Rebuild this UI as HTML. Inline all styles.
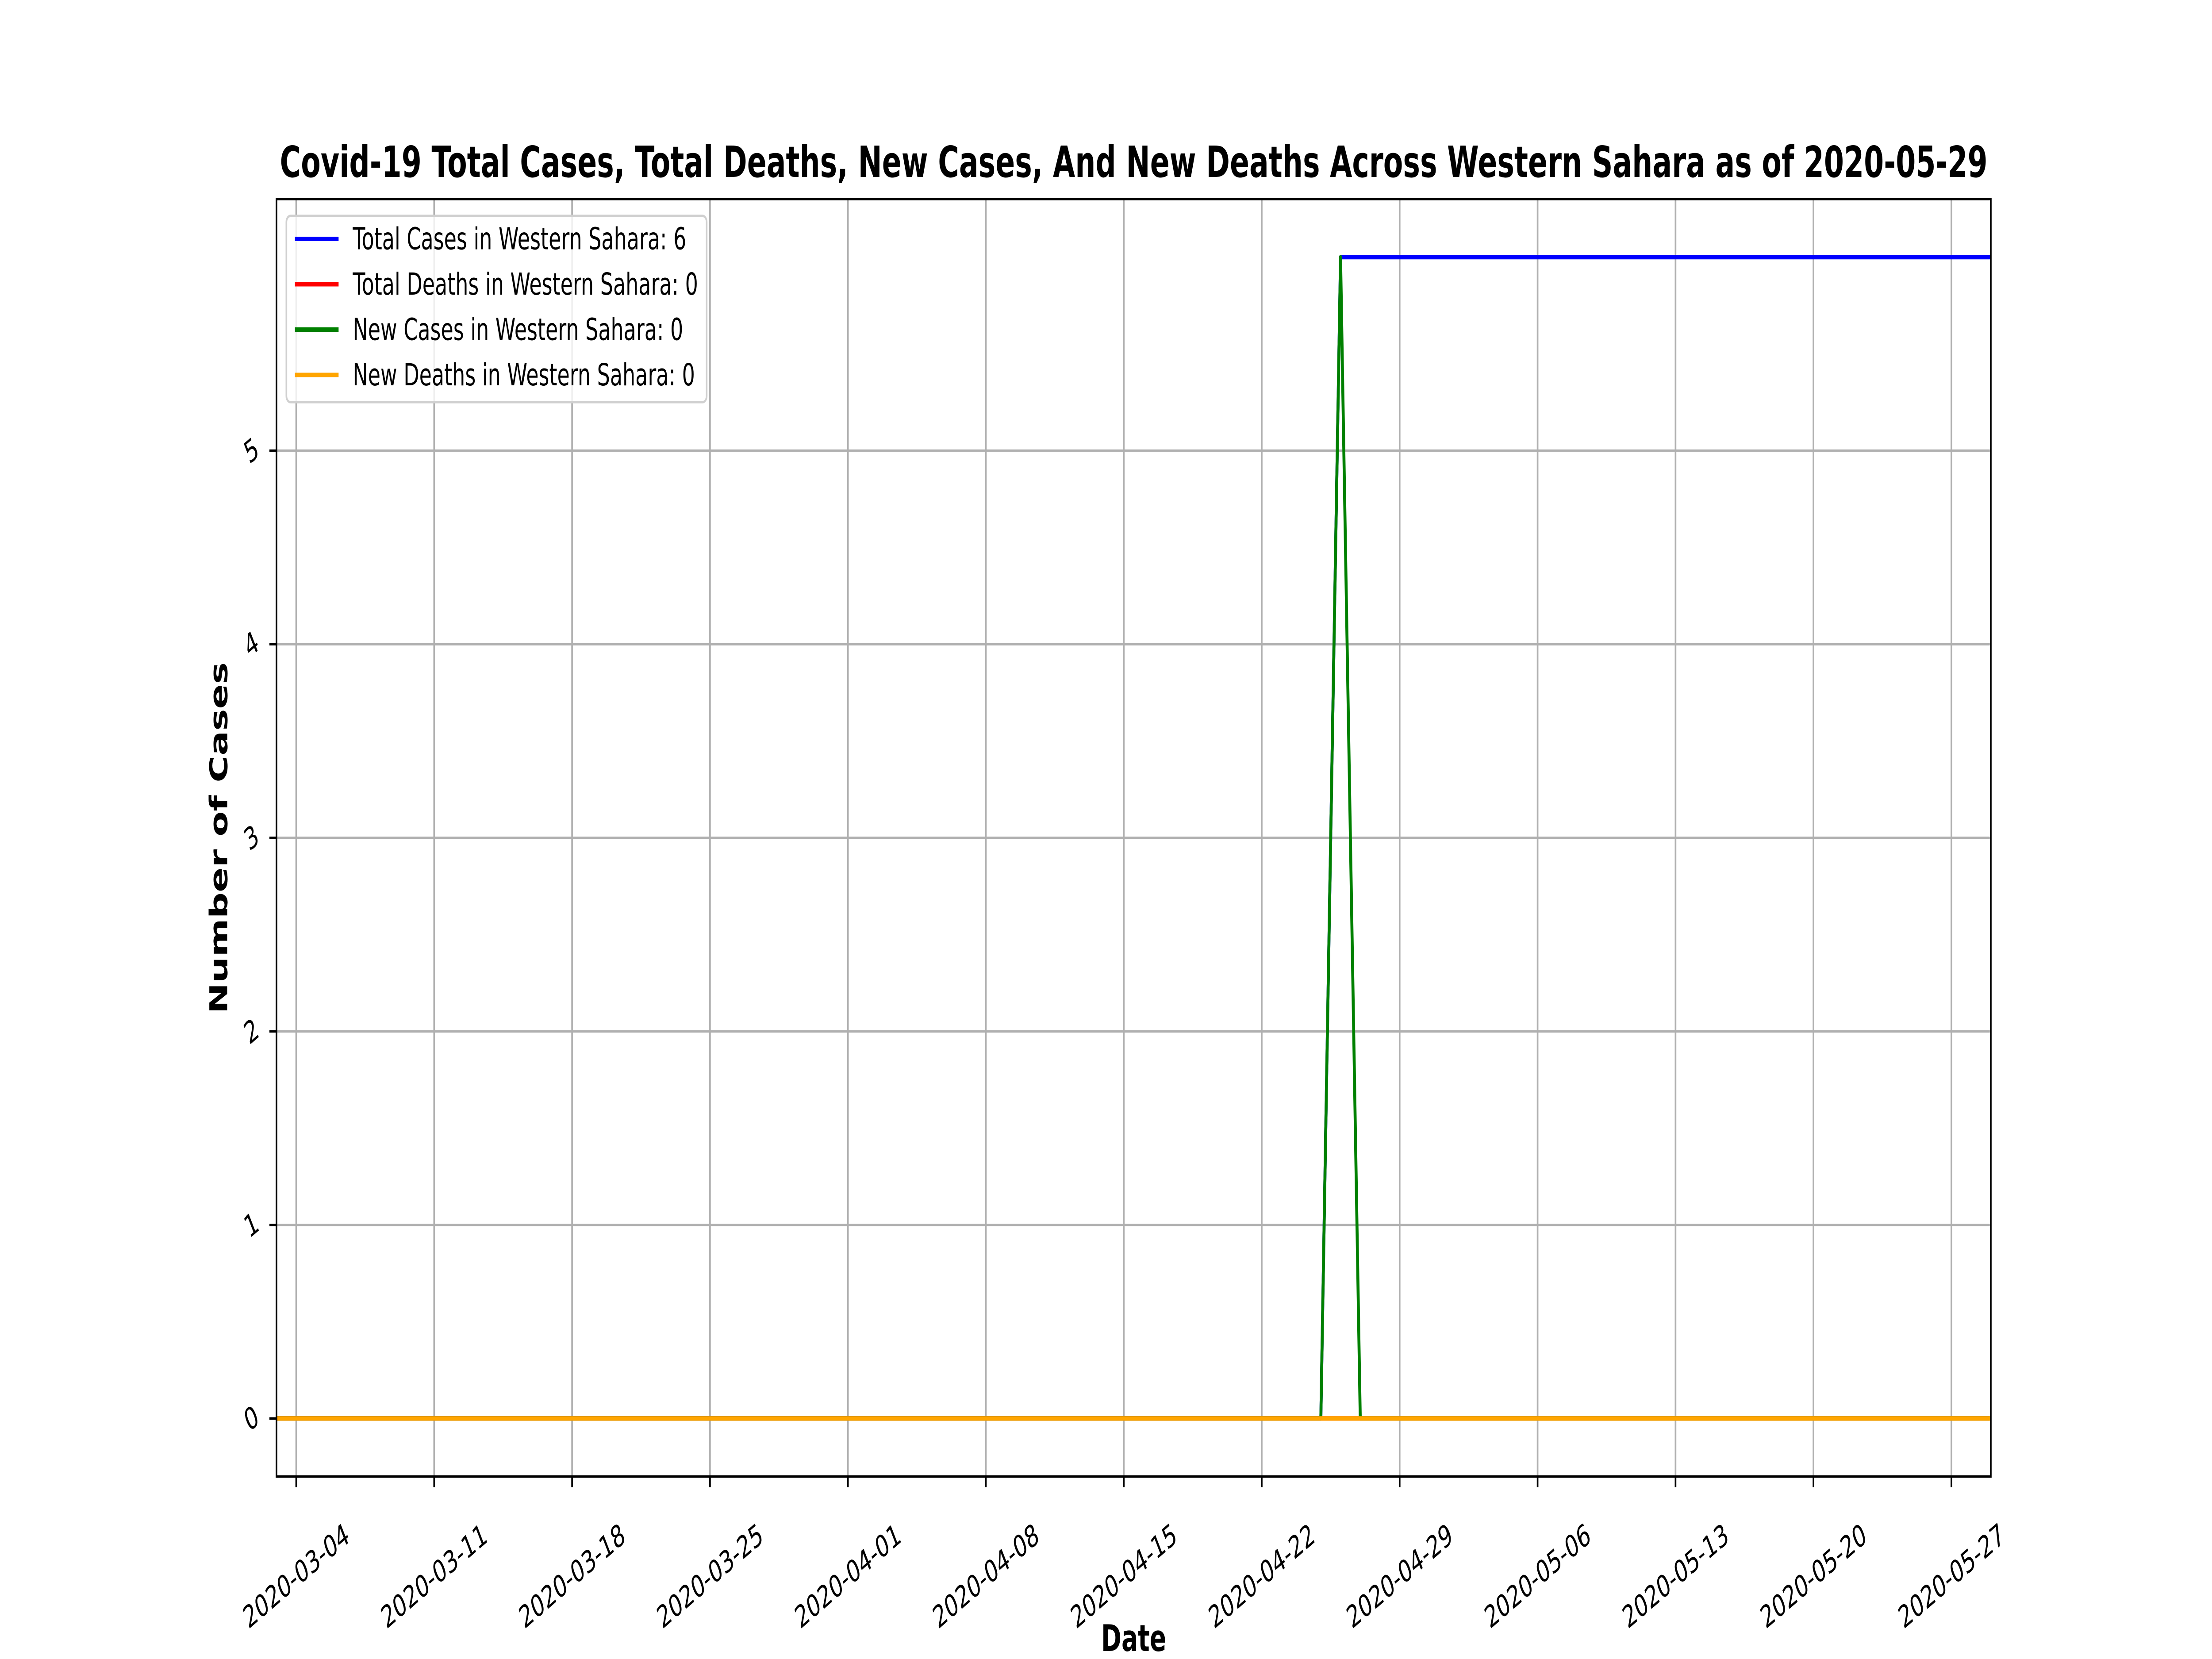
<!DOCTYPE html>
<html><head><meta charset="utf-8"><style>
html,body{margin:0;padding:0;background:#fff;width:100%;height:100%;overflow:hidden;}
svg{display:block;font-family:"DejaVu Sans","Liberation Sans",sans-serif;width:100vw;height:100vh;}
</style></head><body>
<svg id="chart" viewBox="0 0 7500 3750" preserveAspectRatio="none" xmlns="http://www.w3.org/2000/svg">
<rect width="7500" height="3750" fill="#fff"/>
<g id="grid"></g>
<g id="series"></g>
<rect x="937.5" y="450" width="5812.5" height="2887.5" fill="none" stroke="#000" stroke-width="5.5"/>
<g id="ticks"></g>
<text x="3844" y="400" text-anchor="middle" font-size="97" font-weight="bold" textLength="5790" lengthAdjust="spacingAndGlyphs">Covid-19 Total Cases, Total Deaths, New Cases, And New Deaths Across Western Sahara as of 2020-05-29</text>
<text x="3844" y="3732" text-anchor="middle" font-size="83" font-weight="bold">Date</text>
<text transform="translate(770,1894) rotate(-90)" text-anchor="middle" font-size="83" font-weight="bold">Number of Cases</text>
<g id="legend"></g>
</svg>
<script>
const startDate = "2020-03-03";
const nDays = 88;
const xTickLabels = ["2020-03-04","2020-03-11","2020-03-18","2020-03-25","2020-04-01","2020-04-08","2020-04-15","2020-04-22","2020-04-29","2020-05-06","2020-05-13","2020-05-20","2020-05-27"];
const yTickValues = [0,1,2,3,4,5];
const firstCaseDay = "2020-04-26";
const totalCasesAfter = 6;
const newCasesSpike = 6;
const seriesNames = ["Total Cases in Western Sahara: 6","Total Deaths in Western Sahara: 0","New Cases in Western Sahara: 0","New Deaths in Western Sahara: 0"];
const seriesColors = ["#0000ff","#ff0000","#008000","#ffa500"];

const NS="http://www.w3.org/2000/svg";
const L=937.5,R=6750,T=450,B=3337.5;
const ymin=-0.3,ymax=6.3;
const d0=Date.parse(startDate);
function dayIdx(s){return Math.round((Date.parse(s)-d0)/86400000);}
function xs(d){return L+d*(R-L)/(nDays-1);}
function ys(v){return B-(v-ymin)*(B-T)/(ymax-ymin);}
function mk(tag,attrs,parent){const e=document.createElementNS(NS,tag);for(const k in attrs)e.setAttribute(k,attrs[k]);parent.appendChild(e);return e;}

const fc=dayIdx(firstCaseDay);
const totalCases=[],totalDeaths=[],newCases=[],newDeaths=[];
for(let i=0;i<nDays;i++){
  totalCases.push(i>=fc?totalCasesAfter:0);
  totalDeaths.push(0);
  newCases.push(i===fc?newCasesSpike:0);
  newDeaths.push(0);
}
const allSeries=[totalCases,totalDeaths,newCases,newDeaths];

const grid=document.getElementById('grid'),ticks=document.getElementById('ticks'),ser=document.getElementById('series'),leg=document.getElementById('legend');
xTickLabels.forEach(lbl=>{
  const x=xs(dayIdx(lbl));
  const g=mk('line',{x1:x,x2:x,y1:T,y2:B,stroke:'#b0b0b0','stroke-width':5.5},grid);
  
  
  const t=mk('line',{x1:x,x2:x,y1:B,y2:B+24,stroke:'#000','stroke-width':5.5},ticks);
  
  
  const tx=mk('text',{transform:`translate(${x},${B+225}) rotate(-30)`,'text-anchor':'middle','font-size':69,'dominant-baseline':'central'},ticks);
  tx.textContent=lbl;
  
  
});
yTickValues.forEach(v=>{
  const y=ys(v);
  const g=mk('line',{x1:L,x2:R,y1:y,y2:y,stroke:'#b0b0b0','stroke-width':5.5},grid);
  
  
  const t=mk('line',{x1:L-24,x2:L,y1:y,y2:y,stroke:'#000','stroke-width':5.5},ticks);
  
  
  const tx=mk('text',{transform:`translate(${L-85},${y}) rotate(-30)`,'text-anchor':'middle','font-size':69,'dominant-baseline':'central'},ticks);
  tx.textContent=String(v);
  
  
});
allSeries.forEach((s,k)=>{
  const pts=s.map((v,i)=>xs(i)+','+ys(v)).join(' ');
  const p=mk('polyline',{points:pts,fill:'none',stroke:seriesColors[k],'stroke-width':10,'stroke-linejoin':'round'},ser);
  
  
});
const box=mk('rect',{x:971,y:488,width:1425,height:421,rx:14,fill:'#fff','fill-opacity':0.8,stroke:'#d0d0d0','stroke-width':5.5},leg);


seriesNames.forEach((n,k)=>{
  const y=540+k*102.5;
  const l=mk('line',{x1:1000,x2:1148,y1:y,y2:y,stroke:seriesColors[k],'stroke-width':10},leg);
  
  
  const t=mk('text',{x:1196,y:y,'font-size':69,'dominant-baseline':'central'},leg);
  t.textContent=n;
  
  
});
</script>
</body></html>
